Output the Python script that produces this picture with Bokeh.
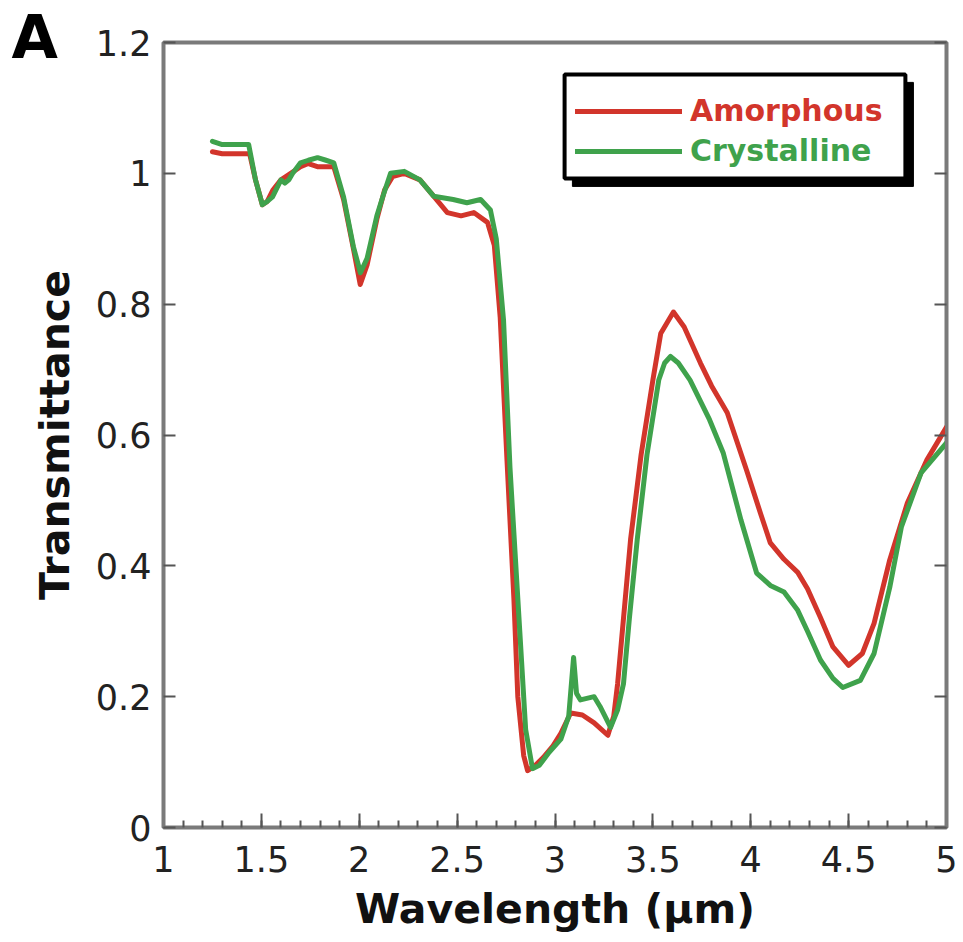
import numpy as np
from bokeh.plotting import figure
from bokeh.models import (Range1d, FixedTicker, LinearAxis, Legend, LegendItem,
                          BoxAnnotation, Title)
from bokeh.embed import file_html
from bokeh.resources import INLINE

# ---------------- data ----------------
amorphous_x = [1.25, 1.30, 1.40, 1.44, 1.47, 1.505, 1.53, 1.56, 1.60, 1.65,
               1.70, 1.74, 1.79, 1.83, 1.87, 1.92, 1.97, 2.005, 2.04, 2.09,
               2.13, 2.17, 2.23, 2.31, 2.38, 2.45, 2.52, 2.585, 2.655, 2.69,
               2.72, 2.755, 2.79, 2.81, 2.84, 2.86, 2.90, 2.94, 2.99, 3.03,
               3.08, 3.14, 3.20, 3.27, 3.30, 3.32, 3.35, 3.386, 3.44, 3.50,
               3.54, 3.605, 3.66, 3.743, 3.80, 3.88, 3.98, 4.05, 4.10, 4.17,
               4.24, 4.29, 4.356, 4.42, 4.50, 4.57, 4.63, 4.71, 4.80, 4.90, 5.0]
amorphous_y = [1.033, 1.030, 1.030, 1.030, 0.990, 0.952, 0.957, 0.975, 0.990, 1.000,
               1.010, 1.015, 1.010, 1.010, 1.010, 0.960, 0.885, 0.830, 0.860, 0.930,
               0.975, 0.995, 1.000, 0.990, 0.965, 0.940, 0.935, 0.940, 0.925, 0.890,
               0.780, 0.560, 0.350, 0.200, 0.110, 0.087, 0.095, 0.107, 0.125, 0.144,
               0.175, 0.172, 0.160, 0.141, 0.170, 0.220, 0.320, 0.440, 0.570, 0.684,
               0.755, 0.788, 0.765, 0.710, 0.675, 0.634, 0.545, 0.480, 0.435, 0.410,
               0.390, 0.365, 0.321, 0.276, 0.248, 0.266, 0.312, 0.409, 0.496, 0.562, 0.612]

crystalline_x = [1.25, 1.30, 1.435, 1.47, 1.505, 1.53, 1.557, 1.60, 1.62, 1.64,
                 1.66, 1.70, 1.74, 1.787, 1.83, 1.87, 1.92, 1.97, 2.006, 2.04,
                 2.09, 2.12, 2.16, 2.23, 2.31, 2.38, 2.48, 2.55, 2.62, 2.67,
                 2.70, 2.737, 2.77, 2.82, 2.85, 2.885, 2.92, 2.97, 3.03, 3.07,
                 3.095, 3.11, 3.13, 3.20, 3.23, 3.284, 3.32, 3.35, 3.38, 3.42,
                 3.47, 3.53, 3.56, 3.59, 3.63, 3.69, 3.79, 3.86, 3.95, 4.03,
                 4.10, 4.17, 4.24, 4.29, 4.356, 4.42, 4.47, 4.56, 4.63, 4.71,
                 4.77, 4.87, 5.0]
crystalline_y = [1.049, 1.044, 1.044, 0.990, 0.952, 0.957, 0.964, 0.990, 0.985, 0.990,
                 1.000, 1.016, 1.020, 1.024, 1.020, 1.016, 0.964, 0.888, 0.848, 0.870,
                 0.935, 0.964, 1.000, 1.003, 0.990, 0.965, 0.960, 0.955, 0.960, 0.944,
                 0.900, 0.776, 0.550, 0.300, 0.150, 0.090, 0.095, 0.115, 0.135, 0.170,
                 0.260, 0.205, 0.195, 0.200, 0.185, 0.153, 0.180, 0.220, 0.320, 0.440,
                 0.570, 0.684, 0.710, 0.720, 0.710, 0.684, 0.623, 0.572, 0.470, 0.389,
                 0.370, 0.360, 0.332, 0.300, 0.256, 0.228, 0.214, 0.225, 0.266, 0.367,
                 0.460, 0.542, 0.588]

series_names = ["Amorphous", "Crystalline"]
x_ticks = [1, 1.5, 2, 2.5, 3, 3.5, 4, 4.5, 5]
x_tick_labels = ["1", "1.5", "2", "2.5", "3", "3.5", "4", "4.5", "5"]
y_ticks = [0, 0.2, 0.4, 0.6, 0.8, 1, 1.2]
y_tick_labels = ["0", "0.2", "0.4", "0.6", "0.8", "1", "1.2"]
x_title = "Wavelength (\u00b5m)"
y_title = "Transmittance"
panel_label = "A"

# ---------------- styling ----------------
RED = "#d2352b"
GREEN = "#3fa24c"
FONT = "DejaVu Sans"
FRAME_GRAY = "#7a7a7a"
TICK_GRAY = "#555555"

x_minor = [round(1 + 0.1 * i, 1) for i in range(41)]

p = figure(frame_width=783, frame_height=785,
           x_range=Range1d(1, 5), y_range=Range1d(0, 1.2),
           output_backend="svg", toolbar_location=None,
           min_border_left=163, min_border_right=17,
           min_border_top=42, min_border_bottom=115,
           background_fill_color="white", border_fill_color="white")
p.xgrid.visible = False
p.ygrid.visible = False
p.outline_line_color = FRAME_GRAY
p.outline_line_width = 4

xa = p.xaxis[0]
xa.ticker = FixedTicker(ticks=x_ticks, minor_ticks=x_minor)
xa.major_label_overrides = dict(zip(x_ticks, x_tick_labels))
xa.major_tick_in = 14
xa.major_tick_out = 0
xa.minor_tick_in = 7
xa.minor_tick_out = 0
xa.major_tick_line_width = 2
xa.minor_tick_line_width = 2
xa.major_tick_line_color = TICK_GRAY
xa.minor_tick_line_color = TICK_GRAY
xa.axis_line_color = FRAME_GRAY
xa.axis_line_width = 3
xa.major_label_standoff = 18
xa.major_label_text_font = FONT
xa.major_label_text_font_size = "35px"
xa.major_label_text_color = "#222222"
xa.axis_label = x_title
xa.axis_label_text_font = FONT
xa.axis_label_text_font_style = "bold"
xa.axis_label_text_font_size = "41px"
xa.axis_label_text_color = "#111111"
xa.axis_label_standoff = 10

ya = p.yaxis[0]
ya.ticker = FixedTicker(ticks=y_ticks, minor_ticks=[])
ya.major_label_overrides = dict(zip(y_ticks, y_tick_labels))
ya.major_tick_in = 12
ya.major_tick_out = 0
ya.minor_tick_line_color = None
ya.major_tick_line_width = 2
ya.major_tick_line_color = TICK_GRAY
ya.axis_line_color = FRAME_GRAY
ya.axis_line_width = 3
ya.major_label_standoff = 12
ya.major_label_text_font = FONT
ya.major_label_text_font_size = "35px"
ya.major_label_text_color = "#222222"
ya.axis_label = y_title
ya.axis_label_text_font = FONT
ya.axis_label_text_font_style = "bold"
ya.axis_label_text_font_size = "41px"
ya.axis_label_text_color = "#111111"
ya.axis_label_standoff = 14

# right-hand axis: inward ticks only, no labels
ra = LinearAxis(ticker=FixedTicker(ticks=y_ticks, minor_ticks=[]))
ra.major_label_overrides = {t: "" for t in y_ticks}
ra.major_label_standoff = 0
ra.major_tick_in = 12
ra.major_tick_out = 0
ra.major_tick_line_width = 2
ra.major_tick_line_color = TICK_GRAY
ra.minor_tick_line_color = None
ra.axis_line_color = FRAME_GRAY
ra.axis_line_width = 3
p.add_layout(ra, "right")

r_am = p.line(amorphous_x, amorphous_y, line_color=RED, line_width=5,
              line_join="round", line_cap="round")
r_cr = p.line(crystalline_x, crystalline_y, line_color=GREEN, line_width=5,
              line_join="round", line_cap="round")

# legend frame with drop shadow
p.add_layout(BoxAnnotation(left=3.089, right=4.831, bottom=0.980, top=1.139,
                           fill_color="black", fill_alpha=1.0, line_color="black",
                           line_alpha=1.0, line_width=1, level="overlay"))
p.add_layout(BoxAnnotation(left=3.049, right=4.790, bottom=0.992, top=1.151,
                           fill_color="white", fill_alpha=1.0, line_color="black",
                           line_alpha=1.0, line_width=4, level="overlay"))

for rend, name, col, loc in [(r_am, series_names[0], RED, (412, 699)),
                             (r_cr, series_names[1], GREEN, (412, 659))]:
    lg = Legend(items=[LegendItem(label=name, renderers=[rend])], location=loc,
                border_line_alpha=0, background_fill_alpha=0,
                glyph_width=107, glyph_height=20, label_standoff=8,
                padding=0, margin=0, spacing=0,
                label_text_font=FONT, label_text_font_style="bold",
                label_text_font_size="30px", label_text_color=col)
    p.add_layout(lg, "center")

# panel letter, top-left corner outside the frame (title panel, pulled down)
p.add_layout(Title(text=panel_label, align="left", offset=-152, standoff=-58,
                   vertical_align="bottom", text_font=FONT, text_font_style="bold",
                   text_font_size="60px", text_color="black"), "above")

open("out.html", "w").write(file_html(p, INLINE))
